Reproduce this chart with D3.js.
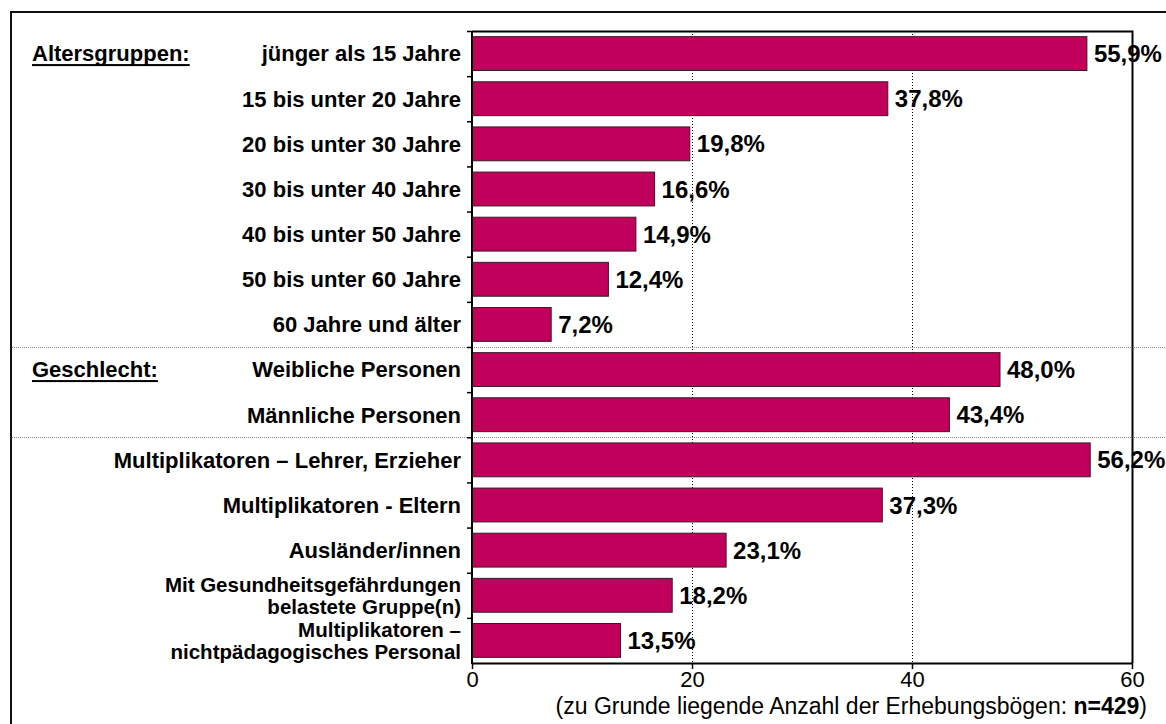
<!DOCTYPE html>
<html>
<head>
<meta charset="utf-8">
<script src="https://cdn.jsdelivr.net/npm/d3@7"></script>
<style>
  body { margin: 0; background: #fff; }
  svg text { font-family: Arial, "Liberation Sans", sans-serif; fill: #000; }
</style>
</head>
<body>
<svg id="chart" width="1166" height="724"></svg>
<script>
const categories = [
  'jünger als 15 Jahre',
  '15 bis unter 20 Jahre',
  '20 bis unter 30 Jahre',
  '30 bis unter 40 Jahre',
  '40 bis unter 50 Jahre',
  '50 bis unter 60 Jahre',
  '60 Jahre und älter',
  'Weibliche Personen',
  'Männliche Personen',
  'Multiplikatoren – Lehrer, Erzieher',
  'Multiplikatoren - Eltern',
  'Ausländer/innen',
  'Mit Gesundheitsgefährdungen\nbelastete Gruppe(n)',
  'Multiplikatoren –\nnichtpädagogisches Personal'
];
const values = [55.9, 37.8, 19.8, 16.6, 14.9, 12.4, 7.2, 48.0, 43.4, 56.2, 37.3, 23.1, 18.2, 13.5];
const groupHeaders = ['Altersgruppen:', 'Geschlecht:'];
const groupStarts = [0, 7];
const separatorsAfter = [6, 8];
const xTicks = [0, 20, 40, 60];
const gridTicks = [20, 40];

const svg = d3.select('#chart');
const plot = { left: 472, right: 1132, top: 31, bottom: 663 };

const x = d3.scaleLinear().domain([0, 60]).range([plot.left, plot.right]);
const y = d3.scaleBand()
  .domain(categories)
  .range([plot.top, plot.bottom])
  .paddingInner(0.25)
  .paddingOuter(0.125);

const boundary = (i) => y(categories[i]) - y.step() * y.paddingInner() / 2;
const fmt = (v) => d3.format('.1f')(v).replace('.', ',') + '%';

// outer frame (only left/top edges fall inside the picture)
svg.append('path')
  .attr('d', `M11,740V12H1180`)
  .attr('fill', 'none')
  .attr('stroke', '#111')
  .attr('stroke-width', 2);

// gray dotted separators between groups
svg.selectAll('line.sep')
  .data(separatorsAfter)
  .enter()
  .append('line')
  .attr('class', 'sep')
  .attr('x1', 12)
  .attr('x2', 1166)
  .attr('y1', (d) => Math.round(boundary(d + 1)) + 0.5)
  .attr('y2', (d) => Math.round(boundary(d + 1)) + 0.5)
  .attr('stroke', '#888')
  .attr('stroke-width', 1)
  .attr('stroke-dasharray', '1,1');

// vertical dotted gridlines
svg.selectAll('line.grid')
  .data(gridTicks)
  .enter()
  .append('line')
  .attr('class', 'grid')
  .attr('x1', (d) => Math.round(x(d)) + 0.5)
  .attr('x2', (d) => Math.round(x(d)) + 0.5)
  .attr('y1', plot.top)
  .attr('y2', plot.bottom)
  .attr('stroke', '#000')
  .attr('stroke-width', 1)
  .attr('stroke-dasharray', '1,2');

// bars
svg.selectAll('rect.bar')
  .data(values)
  .enter()
  .append('rect')
  .attr('class', 'bar')
  .attr('x', x(0))
  .attr('y', (d, i) => y(categories[i]))
  .attr('width', (d) => x(d) - x(0))
  .attr('height', y.bandwidth())
  .attr('fill', '#c0005a')
  .attr('stroke', '#3a1a28')
  .attr('stroke-width', 1);

// top + right frame of plot
svg.append('path')
  .attr('d', `M${plot.left},${plot.top + 0.5}H${plot.right + 0.5}V${plot.bottom}`)
  .attr('fill', 'none')
  .attr('stroke', '#000')
  .attr('stroke-width', 2);

// x axis
const xAxis = d3.axisBottom(x).tickValues(xTicks).tickSize(6).tickSizeOuter(0);
const gx = svg.append('g')
  .attr('transform', `translate(0,${plot.bottom})`)
  .call(xAxis);
gx.select('.domain').attr('stroke', '#000').attr('stroke-width', 2);
gx.selectAll('.tick line').attr('stroke', '#000').attr('stroke-width', 1.5);
gx.selectAll('.tick text')
  .attr('font-size', 22)
  .attr('dy', '0.9em')
  .attr('y', 4)
  .style('font-family', 'Arial, "Liberation Sans", sans-serif');

// y axis line with ticks on band boundaries
svg.append('line')
  .attr('x1', plot.left)
  .attr('x2', plot.left)
  .attr('y1', plot.top)
  .attr('y2', plot.bottom + 1)
  .attr('stroke', '#000')
  .attr('stroke-width', 2);
svg.selectAll('line.ytick')
  .data(d3.range(categories.length))
  .enter()
  .append('line')
  .attr('class', 'ytick')
  .attr('x1', plot.left - 5)
  .attr('x2', plot.left)
  .attr('y1', (i) => boundary(i) + 0.5)
  .attr('y2', (i) => boundary(i) + 0.5)
  .attr('stroke', '#000')
  .attr('stroke-width', 1.5);

// category labels (two-line labels slightly tighter so they fit the band)
const lineH = 22;
svg.selectAll('text.cat')
  .data(categories)
  .enter()
  .append('text')
  .attr('class', 'cat')
  .attr('text-anchor', 'end')
  .attr('font-size', (d) => (d.includes('\n') ? 20.5 : 22))
  .attr('font-weight', 'bold')
  .each(function (d) {
    const lines = d.split('\n');
    const cy = y(d) + y.bandwidth() / 2;
    const t = d3.select(this);
    lines.forEach((ln, k) => {
      t.append('tspan')
        .attr('x', 461)
        .attr('y', cy + (k - (lines.length - 1) / 2) * lineH)
        .attr('dy', '0.36em')
        .text(ln);
    });
  });

// group headers with a thick underline
const grp = svg.selectAll('g.grp')
  .data(groupHeaders)
  .enter()
  .append('g')
  .attr('class', 'grp')
  .attr('transform', (d, i) => `translate(32,${y(categories[groupStarts[i]]) + y.bandwidth() / 2})`);
grp.append('text')
  .attr('dy', '0.36em')
  .attr('font-size', 22)
  .attr('font-weight', 'bold')
  .text((d) => d);
grp.each(function () {
  const g = d3.select(this);
  const w = g.select('text').node().getComputedTextLength();
  g.append('rect')
    .attr('x', 0)
    .attr('y', 10.5)
    .attr('width', w)
    .attr('height', 2)
    .attr('fill', '#000');
});

// value labels
svg.selectAll('text.val')
  .data(values)
  .enter()
  .append('text')
  .attr('class', 'val')
  .attr('x', (d) => x(d) + 7)
  .attr('y', (d, i) => y(categories[i]) + y.bandwidth() / 2)
  .attr('dy', '0.36em')
  .attr('font-size', 24)
  .attr('font-weight', 'bold')
  .text((d) => fmt(d));

// footnote
const note = svg.append('text')
  .attr('x', 1147)
  .attr('y', 714)
  .attr('text-anchor', 'end')
  .attr('font-size', 23);
note.append('tspan').text('(zu Grunde liegende Anzahl der Erhebungsbögen: ');
note.append('tspan').attr('font-weight', 'bold').text('n=429');
note.append('tspan').text(')');
</script>
</body>
</html>
